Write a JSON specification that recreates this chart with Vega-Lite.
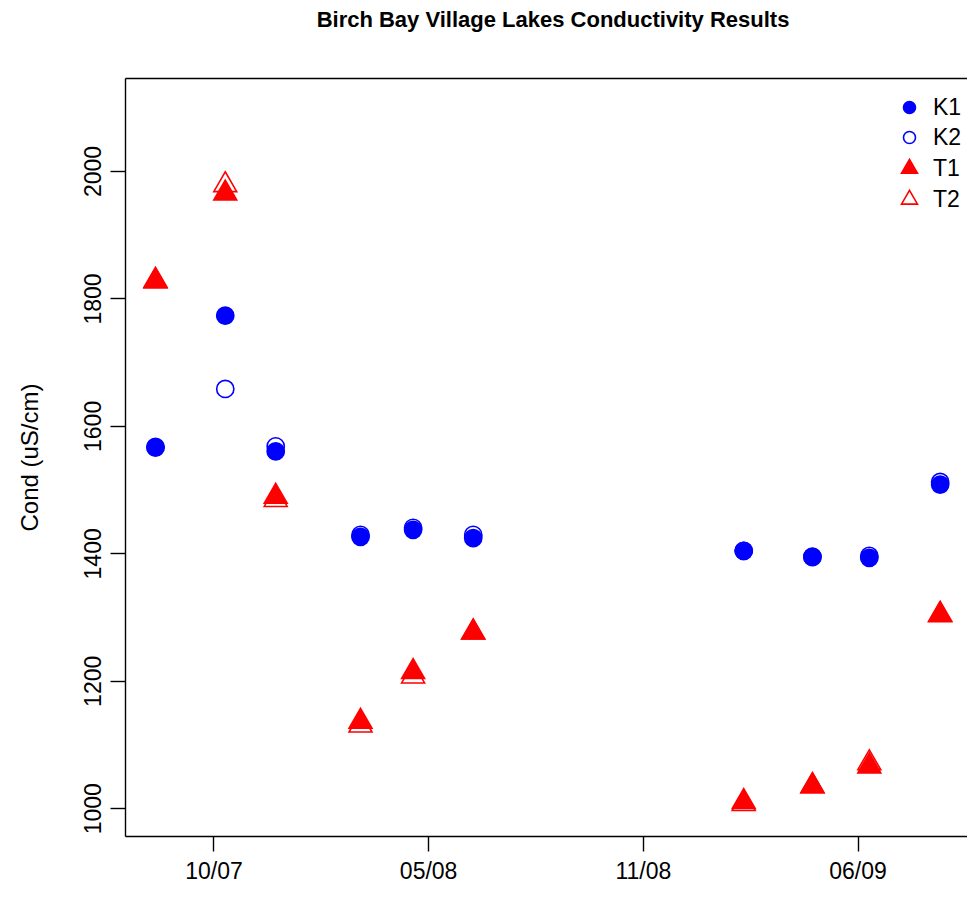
{
  "$schema": "https://vega.github.io/schema/vega-lite/v6.json",
  "width": 842,
  "height": 758,
  "autosize": {"type": "none"},
  "padding": {"left": 125, "top": 78, "right": 0, "bottom": 61},
  "background": "white",
  "title": {
    "text": "Birch Bay Village Lakes Conductivity Results",
    "font": "Liberation Sans",
    "fontSize": 22,
    "fontWeight": "bold",
    "color": "#000000",
    "offset": 46,
    "dx": 7
  },
  "config": {
    "view": {"stroke": null},
    "axis": {
      "labelFont": "Liberation Sans",
      "labelFontSize": 23,
      "labelColor": "#000000",
      "titleFont": "Liberation Sans",
      "titleFontSize": 24,
      "titleFontWeight": "normal",
      "titleColor": "#000000",
      "domainColor": "#000000",
      "domainWidth": 1.4,
      "tickColor": "#000000",
      "tickWidth": 1.4,
      "tickSize": 15,
      "grid": false
    }
  },
  "data": {
    "values": [
      {"date": "2007-08-21", "series": "K1", "cond": 1567},
      {"date": "2007-08-21", "series": "K2", "cond": 1566},
      {"date": "2007-08-21", "series": "T1", "cond": 1827},
      {"date": "2007-08-21", "series": "T2", "cond": 1828},
      {"date": "2007-10-25", "series": "K1", "cond": 1773},
      {"date": "2007-10-25", "series": "K2", "cond": 1658},
      {"date": "2007-10-25", "series": "T1", "cond": 1965},
      {"date": "2007-10-25", "series": "T2", "cond": 1978},
      {"date": "2007-12-11", "series": "K1", "cond": 1560},
      {"date": "2007-12-11", "series": "K2", "cond": 1568},
      {"date": "2007-12-11", "series": "T1", "cond": 1489},
      {"date": "2007-12-11", "series": "T2", "cond": 1484},
      {"date": "2008-02-28", "series": "K1", "cond": 1426},
      {"date": "2008-02-28", "series": "K2", "cond": 1429},
      {"date": "2008-02-28", "series": "T1", "cond": 1136},
      {"date": "2008-02-28", "series": "T2", "cond": 1130},
      {"date": "2008-04-17", "series": "K1", "cond": 1437},
      {"date": "2008-04-17", "series": "K2", "cond": 1440},
      {"date": "2008-04-17", "series": "T1", "cond": 1214},
      {"date": "2008-04-17", "series": "T2", "cond": 1207},
      {"date": "2008-06-12", "series": "K1", "cond": 1424},
      {"date": "2008-06-12", "series": "K2", "cond": 1429},
      {"date": "2008-06-12", "series": "T1", "cond": 1276},
      {"date": "2008-06-12", "series": "T2", "cond": 1276},
      {"date": "2009-02-19", "series": "K1", "cond": 1404},
      {"date": "2009-02-19", "series": "K2", "cond": 1404},
      {"date": "2009-02-19", "series": "T1", "cond": 1010},
      {"date": "2009-02-19", "series": "T2", "cond": 1007},
      {"date": "2009-04-24", "series": "K1", "cond": 1394},
      {"date": "2009-04-24", "series": "K2", "cond": 1395},
      {"date": "2009-04-24", "series": "T1", "cond": 1035},
      {"date": "2009-04-24", "series": "T2", "cond": 1035},
      {"date": "2009-06-16", "series": "K1", "cond": 1393},
      {"date": "2009-06-16", "series": "K2", "cond": 1396},
      {"date": "2009-06-16", "series": "T1", "cond": 1066},
      {"date": "2009-06-16", "series": "T2", "cond": 1071},
      {"date": "2009-08-21", "series": "K1", "cond": 1508},
      {"date": "2009-08-21", "series": "K2", "cond": 1512},
      {"date": "2009-08-21", "series": "T1", "cond": 1303},
      {"date": "2009-08-21", "series": "T2", "cond": 1304}
    ]
  },
  "layer": [
    {
      "mark": {"type": "point", "opacity": 1, "strokeWidth": 1.6, "size": 700},
      "encoding": {
        "x": {
          "field": "date",
          "type": "temporal",
          "scale": {"type": "utc", "domain": [1185200640000, 1252972800000], "nice": false},
          "axis": {
            "orient": "bottom",
            "values": [1192320000000, 1209600000000, 1226880000000, 1244160000000],
            "format": "%m/%y",
            "labelPadding": 9,
            "labelFlush": false,
            "labelOverlap": false,
            "title": null
          }
        },
        "y": {
          "field": "cond",
          "type": "quantitative",
          "scale": {"domain": [956.5, 2145.9], "nice": false, "zero": false},
          "axis": {
            "values": [1000, 1200, 1400, 1600, 1800, 2000],
            "format": "d",
            "labelAngle": 270,
            "labelAlign": "center",
            "labelBaseline": "alphabetic",
            "labelPadding": 10,
            "title": "Cond (uS/cm)",
            "titlePadding": 40
          }
        },
        "shape": {
          "field": "series",
          "type": "nominal",
          "scale": {
            "domain": ["K1", "K2", "T1", "T2"],
            "range": [
              "M0.65,0A0.65,0.65,0,1,1,-0.65,0A0.65,0.65,0,1,1,0.65,0Z",
              "M0.65,0A0.65,0.65,0,1,1,-0.65,0A0.65,0.65,0,1,1,0.65,0Z",
              "M0,-1L0.866,0.5L-0.866,0.5Z",
              "M0,-1L0.866,0.5L-0.866,0.5Z"
            ]
          },
          "legend": {"title": null, "orient": "none", "legendX": 773, "legendY": 18, "padding": 0, "symbolSize": 340, "symbolStrokeWidth": 1.6, "labelFont": "Liberation Sans", "labelFontSize": 23, "labelColor": "#000000", "labelOffset": 12, "rowPadding": 6}
        },
        "fill": {
          "field": "series",
          "type": "nominal",
          "scale": {"domain": ["K1", "K2", "T1", "T2"], "range": ["#0000ff", "transparent", "#ff0000", "transparent"]},
          "legend": {"title": null, "orient": "none", "legendX": 773, "legendY": 18, "padding": 0, "symbolSize": 340, "symbolStrokeWidth": 1.6, "labelFont": "Liberation Sans", "labelFontSize": 23, "labelColor": "#000000", "labelOffset": 12, "rowPadding": 6}
        },
        "stroke": {
          "field": "series",
          "type": "nominal",
          "scale": {"domain": ["K1", "K2", "T1", "T2"], "range": ["#0000ff", "#0000ff", "#ff0000", "#ff0000"]},
          "legend": {"title": null, "orient": "none", "legendX": 773, "legendY": 18, "padding": 0, "symbolSize": 340, "symbolStrokeWidth": 1.6, "labelFont": "Liberation Sans", "labelFontSize": 23, "labelColor": "#000000", "labelOffset": 12, "rowPadding": 6}
        }
      }
    },
    {
      "mark": {"type": "point", "opacity": 0},
      "encoding": {
        "x": {
          "field": "date",
          "type": "temporal",
          "scale": {"type": "utc", "domain": [1185200640000, 1252972800000], "nice": false},
          "axis": {"orient": "top", "labels": false, "ticks": false, "title": null}
        }
      }
    }
  ],
  "resolve": {"axis": {"x": "independent"}}
}
